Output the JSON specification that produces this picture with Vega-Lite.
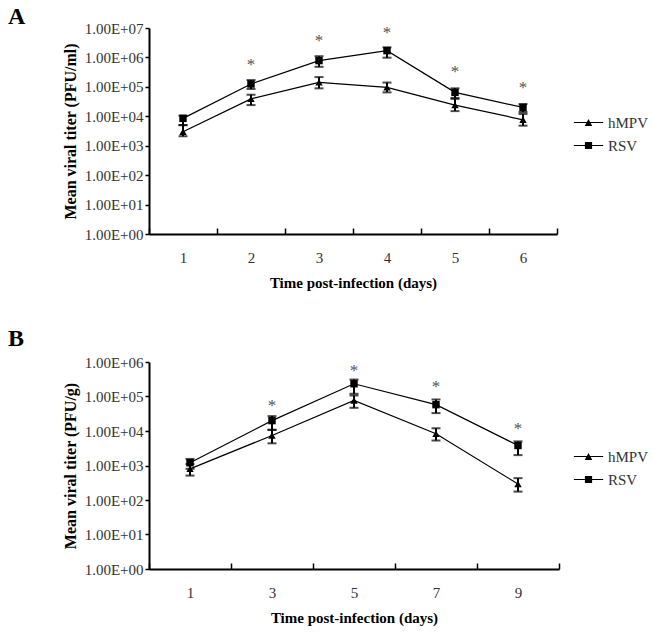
{
  "$schema": "https://vega.github.io/schema/vega-lite/v6.json",
  "padding": {"left": 8, "top": 5, "right": 5, "bottom": 5},
  "background": "white",
  "spacing": 37,
  "config": {
    "view": {"stroke": null},
    "font": "Liberation Serif",
    "axis": {
      "labelFont": "Liberation Serif", "labelFontSize": 15, "labelColor": "#333",
      "titleFont": "Liberation Serif", "titleFontWeight": "bold", "titleColor": "black",
      "domainColor": "black", "domainWidth": 2, "tickColor": "black", "tickWidth": 1.5, "grid": false
    },
    "legend": {"labelFont": "Liberation Serif", "labelFontSize": 15, "labelColor": "#333"}
  },
  "datasets": {
    "a": [
      {"day": "1", "series": "hMPV", "mean": 3000, "lo": 2100, "hi": 5000},
      {"day": "2", "series": "hMPV", "mean": 39000, "lo": 24000, "hi": 54000},
      {"day": "3", "series": "hMPV", "mean": 142000, "lo": 89000, "hi": 215000},
      {"day": "4", "series": "hMPV", "mean": 96000, "lo": 65000, "hi": 140000},
      {"day": "5", "series": "hMPV", "mean": 24000, "lo": 15000, "hi": 39000},
      {"day": "6", "series": "hMPV", "mean": 7600, "lo": 4800, "hi": 12000},
      {"day": "1", "series": "RSV", "mean": 8500, "lo": 5000, "hi": 10500},
      {"day": "2", "series": "RSV", "mean": 125000, "lo": 85000, "hi": 170000},
      {"day": "3", "series": "RSV", "mean": 780000, "lo": 480000, "hi": 1100000},
      {"day": "4", "series": "RSV", "mean": 1700000, "lo": 980000, "hi": 2200000},
      {"day": "5", "series": "RSV", "mean": 65000, "lo": 42000, "hi": 89000},
      {"day": "6", "series": "RSV", "mean": 20000, "lo": 14000, "hi": 26000}
    ],
    "sa": [
      {"day": "2", "star": 780000},
      {"day": "3", "star": 4800000},
      {"day": "4", "star": 9300000},
      {"day": "5", "star": 430000},
      {"day": "6", "star": 125000}
    ],
    "b": [
      {"day": "1", "series": "hMPV", "mean": 800, "lo": 510, "hi": 1100},
      {"day": "3", "series": "hMPV", "mean": 7400, "lo": 4400, "hi": 10800},
      {"day": "5", "series": "hMPV", "mean": 77000, "lo": 47000, "hi": 107000},
      {"day": "7", "series": "hMPV", "mean": 8300, "lo": 5300, "hi": 12000},
      {"day": "9", "series": "hMPV", "mean": 290, "lo": 175, "hi": 430},
      {"day": "1", "series": "RSV", "mean": 1200, "lo": 800, "hi": 1550},
      {"day": "3", "series": "RSV", "mean": 20000, "lo": 10800, "hi": 27000},
      {"day": "5", "series": "RSV", "mean": 234000, "lo": 120000, "hi": 310000},
      {"day": "7", "series": "RSV", "mean": 58000, "lo": 33000, "hi": 82000},
      {"day": "9", "series": "RSV", "mean": 3800, "lo": 2000, "hi": 5000}
    ],
    "sb": [
      {"day": "3", "star": 69000},
      {"day": "5", "star": 710000},
      {"day": "7", "star": 250000},
      {"day": "9", "star": 15000}
    ]
  },
  "resolve": {"scale": {"x": "independent", "y": "independent", "shape": "independent"}, "legend": {"shape": "independent"}},
  "vconcat": [
    {
      "width": 408, "height": 206,
      "title": {"text": "A", "anchor": "start", "frame": "group", "dx": -141, "offset": -8, "fontSize": 24, "font": "Liberation Serif", "fontWeight": "bold", "color": "black"},
      "data": {"name": "a"},
      "encoding": {
        "x": {"field": "day", "type": "ordinal", "scale": {"type": "band", "paddingInner": 0, "paddingOuter": 0},
          "axis": {"title": "Time post-infection (days)", "titleFontSize": 15, "labelAngle": 0, "tickBand": "extent", "tickSize": -6, "labelPadding": 22, "titlePadding": 10}}
      },
      "resolve": {"scale": {"shape": "independent"}},
      "layer": [
        {"mark": {"type": "line", "color": "black", "strokeWidth": 1.2},
          "encoding": {"y": {"field": "mean", "type": "quantitative",
            "scale": {"type": "log", "domain": [1, 10000000]},
            "axis": {"title": "Mean viral titer (PFU/ml)", "titleFontSize": 16, "values": [1, 10, 100, 1000, 10000, 100000, 1000000, 10000000],
              "labelExpr": "'1.00E+0' + round(log(datum.value)/LN10)", "tickSize": 4, "labelPadding": 2, "titlePadding": 6}},
            "detail": {"field": "series"}}},
        {"mark": {"type": "rule", "color": "black", "strokeWidth": 2},
          "encoding": {"y": {"field": "lo", "type": "quantitative"}, "y2": {"field": "hi"}}},
        {"mark": {"type": "tick", "orient": "horizontal", "size": 9, "thickness": 2, "color": "black"},
          "encoding": {"y": {"field": "lo", "type": "quantitative"}}},
        {"mark": {"type": "tick", "orient": "horizontal", "size": 9, "thickness": 2, "color": "black"},
          "encoding": {"y": {"field": "hi", "type": "quantitative"}}},
        {"mark": {"type": "point", "filled": true, "color": "black", "size": 55, "opacity": 1},
          "encoding": {"y": {"field": "mean", "type": "quantitative"},
            "shape": {"field": "series", "type": "nominal", "scale": {"domain": ["hMPV", "RSV"], "range": ["triangle-up", "square"]}, "legend": null}}},
        {"data": {"name": "sa"},
          "mark": {"type": "text", "text": "*", "color": "#555", "fontSize": 17, "baseline": "alphabetic", "dy": 9},
          "encoding": {"y": {"field": "star", "type": "quantitative"}}},
        {"transform": [{"filter": "false"}],
          "mark": {"type": "point", "filled": true, "color": "black", "opacity": 1},
          "encoding": {"y": {"field": "mean", "type": "quantitative"},
            "shape": {"field": "series", "type": "nominal",
              "scale": {"domain": ["hMPV", "RSV"], "range": ["M-1.95,-0.08H1.95V0.08H-1.95ZM-0.5,0.45L0,-0.48L0.5,0.45Z", "M-1.95,-0.08H1.95V0.08H-1.95ZM-0.48,-0.48H0.48V0.48H-0.48Z"]},
              "legend": {"title": null, "orient": "none", "legendX": 431, "legendY": 86, "padding": 0, "symbolSize": 225, "labelOffset": 11, "rowPadding": 6, "symbolFillColor": "black"}}}}
      ]
    },
    {
      "width": 410, "height": 207,
      "title": {"text": "B", "anchor": "start", "frame": "group", "dx": -141, "offset": 4, "fontSize": 24, "font": "Liberation Serif", "fontWeight": "bold", "color": "black"},
      "data": {"name": "b"},
      "encoding": {
        "x": {"field": "day", "type": "ordinal", "scale": {"type": "band", "paddingInner": 0, "paddingOuter": 0},
          "axis": {"title": "Time post-infection (days)", "titleFontSize": 15, "labelAngle": 0, "tickBand": "extent", "tickSize": -6, "labelPadding": 22, "titlePadding": 10}}
      },
      "resolve": {"scale": {"shape": "independent"}},
      "layer": [
        {"mark": {"type": "line", "color": "black", "strokeWidth": 1.2},
          "encoding": {"y": {"field": "mean", "type": "quantitative",
            "scale": {"type": "log", "domain": [1, 1000000]},
            "axis": {"title": "Mean viral titer (PFU/g)", "titleFontSize": 16, "values": [1, 10, 100, 1000, 10000, 100000, 1000000],
              "labelExpr": "'1.00E+0' + round(log(datum.value)/LN10)", "tickSize": 4, "labelPadding": 2, "titlePadding": 6}},
            "detail": {"field": "series"}}},
        {"mark": {"type": "rule", "color": "black", "strokeWidth": 2},
          "encoding": {"y": {"field": "lo", "type": "quantitative"}, "y2": {"field": "hi"}}},
        {"mark": {"type": "tick", "orient": "horizontal", "size": 9, "thickness": 2, "color": "black"},
          "encoding": {"y": {"field": "lo", "type": "quantitative"}}},
        {"mark": {"type": "tick", "orient": "horizontal", "size": 9, "thickness": 2, "color": "black"},
          "encoding": {"y": {"field": "hi", "type": "quantitative"}}},
        {"mark": {"type": "point", "filled": true, "color": "black", "size": 55, "opacity": 1},
          "encoding": {"y": {"field": "mean", "type": "quantitative"},
            "shape": {"field": "series", "type": "nominal", "scale": {"domain": ["hMPV", "RSV"], "range": ["triangle-up", "square"]}, "legend": null}}},
        {"data": {"name": "sb"},
          "mark": {"type": "text", "text": "*", "color": "#555", "fontSize": 17, "baseline": "alphabetic", "dy": 9},
          "encoding": {"y": {"field": "star", "type": "quantitative"}}},
        {"transform": [{"filter": "false"}],
          "mark": {"type": "point", "filled": true, "color": "black", "opacity": 1},
          "encoding": {"y": {"field": "mean", "type": "quantitative"},
            "shape": {"field": "series", "type": "nominal",
              "scale": {"domain": ["hMPV", "RSV"], "range": ["M-1.95,-0.08H1.95V0.08H-1.95ZM-0.5,0.45L0,-0.48L0.5,0.45Z", "M-1.95,-0.08H1.95V0.08H-1.95ZM-0.48,-0.48H0.48V0.48H-0.48Z"]},
              "legend": {"title": null, "orient": "none", "legendX": 431, "legendY": 86, "padding": 0, "symbolSize": 225, "labelOffset": 11, "rowPadding": 6, "symbolFillColor": "black"}}}}
      ]
    }
  ]
}
